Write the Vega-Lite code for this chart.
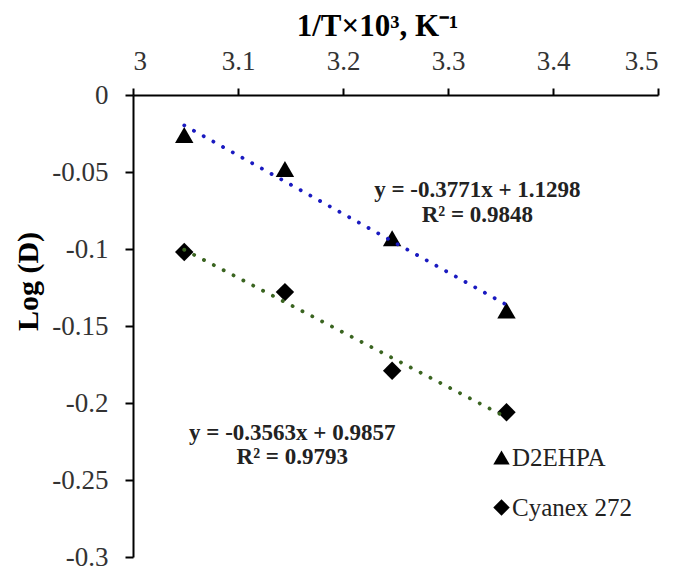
{
  "$schema": "https://vega.github.io/schema/vega-lite/v6.json",
  "autosize": "none",
  "width": 525,
  "height": 462,
  "padding": {"left": 133, "top": 95, "right": 20, "bottom": 10},
  "background": "white",
  "config": {
    "view": {"stroke": null},
    "font": "Liberation Serif"
  },
  "datasets": {
    "pts": [
      {"x": 3.0488, "y": -0.026, "series": "D2EHPA"},
      {"x": 3.1447, "y": -0.048, "series": "D2EHPA"},
      {"x": 3.2468, "y": -0.093, "series": "D2EHPA"},
      {"x": 3.3557, "y": -0.140, "series": "D2EHPA"},
      {"x": 3.0488, "y": -0.102, "series": "Cyanex 272"},
      {"x": 3.1447, "y": -0.128, "series": "Cyanex 272"},
      {"x": 3.2468, "y": -0.179, "series": "Cyanex 272"},
      {"x": 3.3557, "y": -0.206, "series": "Cyanex 272"}
    ],
    "notes": [
      {"x": 3.328, "y": -0.0617, "label": "y = -0.3771x + 1.1298"},
      {"x": 3.328, "y": -0.0780, "label": "R² = 0.9848"},
      {"x": 3.1517, "y": -0.2196, "label": "y = -0.3563x + 0.9857"},
      {"x": 3.1517, "y": -0.2352, "label": "R² = 0.9793"}
    ]
  },
  "layer": [
    {
      "data": {"name": "pts"},
      "mark": {"type": "point", "filled": true, "color": "black", "opacity": 1, "size": 340},
      "encoding": {
        "x": {
          "field": "x", "type": "quantitative",
          "scale": {"domain": [3, 3.5], "nice": false, "zero": false},
          "axis": {
            "orient": "top",
            "values": [3, 3.1, 3.2, 3.3, 3.4, 3.5],
            "format": "~g",
            "grid": false,
            "domainColor": "black", "domainWidth": 2,
            "tickColor": "black", "tickWidth": 2, "tickSize": 7,
            "labelFont": "Liberation Serif", "labelFontSize": 27, "labelColor": "#333333",
            "labelPadding": 13,
            "title": "1/T×10³, K⁻¹",
            "titleFont": "Liberation Serif", "titleFontSize": 31, "titleFontWeight": "bold", "titleColor": "black",
            "titleX": 244, "titleY": -60, "titleAlign": "center", "titleBaseline": "alphabetic"
          }
        },
        "y": {
          "field": "y", "type": "quantitative",
          "scale": {"domain": [-0.3, 0], "nice": false, "zero": false},
          "axis": {
            "values": [0, -0.05, -0.1, -0.15, -0.2, -0.25, -0.3],
            "format": "~g",
            "labelExpr": "replace(datum.label, '\u2212', '-')",
            "grid": false,
            "domainColor": "black", "domainWidth": 2,
            "tickColor": "black", "tickWidth": 2, "tickSize": 8,
            "labelFont": "Liberation Serif", "labelFontSize": 27, "labelColor": "#333333",
            "labelPadding": 17,
            "title": "Log (D)",
            "titleFont": "Liberation Serif", "titleFontSize": 30, "titleFontWeight": "bold", "titleColor": "black",
            "titleX": -105, "titleY": 186, "titleAngle": 270, "titleAlign": "center", "titleBaseline": "middle"
          }
        },
        "shape": {
          "field": "series", "type": "nominal",
          "scale": {"domain": ["D2EHPA", "Cyanex 272"], "range": ["triangle-up", "diamond"]},
          "legend": {
            "title": null,
            "orient": "none",
            "legendX": 356,
            "legendY": 350,
            "padding": 0,
            "symbolSize": 270,
            "symbolFillColor": "black",
            "symbolStrokeColor": "black",
            "labelFont": "Liberation Serif",
            "labelFontSize": 25,
            "labelColor": "#222222",
            "labelOffset": -2,
            "rowPadding": 24
          }
        }
      }
    },
    {
      "data": {"name": "pts"},
      "transform": [{"regression": "y", "on": "x", "groupby": ["series"]}],
      "mark": {"type": "line", "strokeDash": [0.1, 11], "strokeCap": "round", "strokeWidth": 3.8},
      "encoding": {
        "x": {"field": "x", "type": "quantitative"},
        "y": {"field": "y", "type": "quantitative"},
        "detail": {"field": "series", "type": "nominal"},
        "color": {
          "condition": {"test": "datum.series === 'D2EHPA'", "value": "#1a1ac0"},
          "value": "#3a6420"
        }
      }
    },
    {
      "data": {"name": "notes"},
      "mark": {"type": "text", "font": "Liberation Serif", "fontSize": 23, "fontWeight": "bold", "color": "#222222", "align": "center", "baseline": "middle"},
      "encoding": {
        "x": {"field": "x", "type": "quantitative"},
        "y": {"field": "y", "type": "quantitative"},
        "text": {"field": "label", "type": "nominal"}
      }
    }
  ]
}
